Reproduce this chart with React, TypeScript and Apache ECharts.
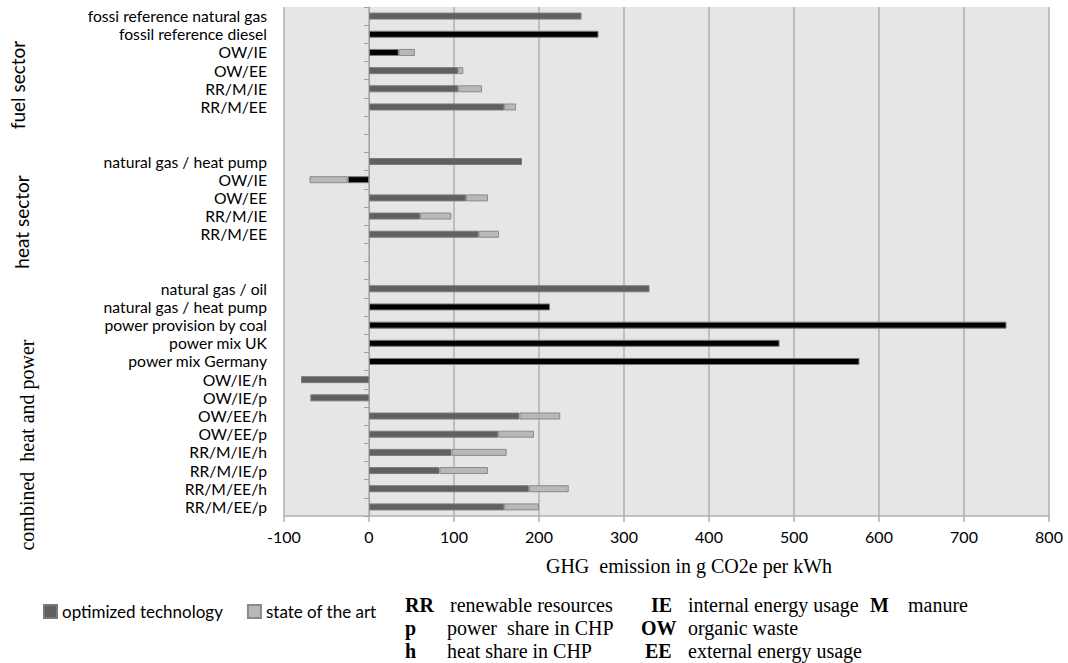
import React, { useEffect, useRef } from "react";
import * as echarts from "echarts";

const categories = [
  "fossi reference natural gas", "fossil reference diesel", "OW/IE", "OW/EE", "RR/M/IE", "RR/M/EE", "", "",
  "natural gas / heat pump", "OW/IE", "OW/EE", "RR/M/IE", "RR/M/EE", "", "",
  "natural gas / oil", "natural gas / heat pump", "power provision by coal", "power mix UK", "power mix Germany",
  "OW/IE/h", "OW/IE/p", "OW/EE/h", "OW/EE/p", "RR/M/IE/h", "RR/M/IE/p", "RR/M/EE/h", "RR/M/EE/p",
];

const optimized = [
  250, 270, 35, 105, 105, 159, null, null,
  180, -25, 114, 60, 129, null, null,
  330, 213, 750, 483, 577, -80, -69, 177, 152, 97, 83, 188, 159,
];

const stateOfTheArtExtra = [
  null, null, 19, 6, 28, 14, null, null,
  null, -45, 26, 37, 24, null, null,
  null, null, null, null, null, null, null, 48, 42, 65, 57, 47, 41,
];

// rows drawn as reference (black) bars
const referenceRows = [1, 2, 9, 16, 17, 18, 19];

const xTicks = { min: -100, max: 800, interval: 100 };

const groupLabels = [
  { text: "fuel sector", x: 17, y: 85, serif: false },
  { text: "heat sector", x: 21, y: 222, serif: false },
  { text: "combined  heat and power", x: 27, y: 445, serif: true },
];

const abbrevs = [
  { key: "RR", kx: 405, text: "renewable resources", tx: 450, row: 0 },
  { key: "IE", kx: 651, text: "internal energy usage", tx: 688, row: 0 },
  { key: "M", kx: 870, text: "manure", tx: 908, row: 0 },
  { key: "p", kx: 405, text: "power  share in CHP", tx: 447, row: 1 },
  { key: "OW", kx: 641, text: "organic waste", tx: 688, row: 1 },
  { key: "h", kx: 405, text: "heat share in CHP", tx: 447, row: 2 },
  { key: "EE", kx: 645, text: "external energy usage", tx: 688, row: 2 },
];

const SANS = "Lato, 'Noto Sans', sans-serif";
const SERIF = "'Liberation Serif', 'DejaVu Serif', serif";

export default function App() {
  const ref = useRef<HTMLDivElement>(null);
  useEffect(() => {
    document.body.style.margin = "0";
    const chart = echarts.init(ref.current!, undefined, { renderer: "svg" });
    const rowY = [605, 628, 651];
    const graphics: any[] = [];
    groupLabels.forEach((g) => {
      graphics.push({
        type: "text",
        x: g.x,
        y: g.y,
        rotation: Math.PI / 2,
        style: {
          text: g.text,
          fill: "#000",
          font: g.serif ? `20px ${SERIF}` : `19px ${SANS}`,
          textAlign: "center",
          textVerticalAlign: "middle",
        },
      });
    });
    abbrevs.forEach((a) => {
      graphics.push({
        type: "text",
        x: a.kx,
        y: rowY[a.row],
        style: { text: a.key, fill: "#000", font: `bold 20px ${SERIF}`, textVerticalAlign: "middle" },
      });
      graphics.push({
        type: "text",
        x: a.tx,
        y: rowY[a.row],
        style: { text: a.text, fill: "#000", font: `20px ${SERIF}`, textVerticalAlign: "middle" },
      });
    });
    graphics.push({
      type: "text",
      x: 689,
      y: 566,
      style: {
        text: "GHG  emission in g CO2e per kWh",
        fill: "#000",
        font: `20px ${SERIF}`,
        textAlign: "center",
        textVerticalAlign: "middle",
      },
    });

    const optData = optimized.map((v, i) =>
      referenceRows.includes(i) ? { value: v, itemStyle: { color: "#000" } } : v
    );

    chart.setOption({
      animation: false,
      grid: {
        left: 284,
        right: 19,
        top: 7,
        bottom: 147,
        show: true,
        backgroundColor: "#e6e6e6",
        borderWidth: 0,
      },
      legend: {
        left: 38,
        top: 598,
        itemWidth: 13,
        itemHeight: 13,
        itemGap: 24,
        icon: "rect",
        textStyle: { fontFamily: SANS, fontSize: 17, color: "#000" },
        data: ["optimized technology", "state of the art"],
      },
      graphic: graphics,
      xAxis: {
        type: "value",
        min: xTicks.min,
        max: xTicks.max,
        interval: xTicks.interval,
        axisLine: { show: true, onZero: false, lineStyle: { color: "#b0b0b0", width: 1.5 } },
        axisTick: { show: true, length: 6, lineStyle: { color: "#b0b0b0", width: 1.5 } },
        axisLabel: { fontFamily: SANS, fontSize: 16, color: "#000", margin: 12 },
        splitLine: { show: true, lineStyle: { color: "#b0b0b0", width: 1.5 } },
      },
      yAxis: [
        {
          type: "category",
          data: categories,
          inverse: true,
          position: "left",
          axisLine: { show: false, onZero: false },
          axisTick: { show: false },
          axisLabel: { fontFamily: SANS, fontSize: 15.7, color: "#000", margin: 17, interval: 0 },
          splitLine: { show: false },
        },
        {
          type: "category",
          data: categories,
          inverse: true,
          position: "right",
          axisLine: { show: true, onZero: true, lineStyle: { color: "#a0a0a0", width: 1 } },
          axisTick: { show: true, inside: true, length: 5, interval: 0, lineStyle: { color: "#a0a0a0" } },
          axisLabel: { show: false },
          splitLine: { show: false },
        },
      ],
      series: [
        {
          name: "optimized technology",
          type: "bar",
          stack: "a",
          barWidth: 7,
          yAxisIndex: 0,
          itemStyle: { color: "#606060", borderColor: "#7a7a7a", borderWidth: 1 },
          data: optData,
        },
        {
          name: "state of the art",
          type: "bar",
          stack: "a",
          barWidth: 7,
          yAxisIndex: 0,
          itemStyle: { color: "#b8b8b8", borderColor: "#8a8a8a", borderWidth: 1 },
          data: stateOfTheArtExtra,
        },
      ],
    });
    return () => chart.dispose();
  }, []);
  return <div ref={ref} style={{ width: 1068, height: 663 }} />;
}
